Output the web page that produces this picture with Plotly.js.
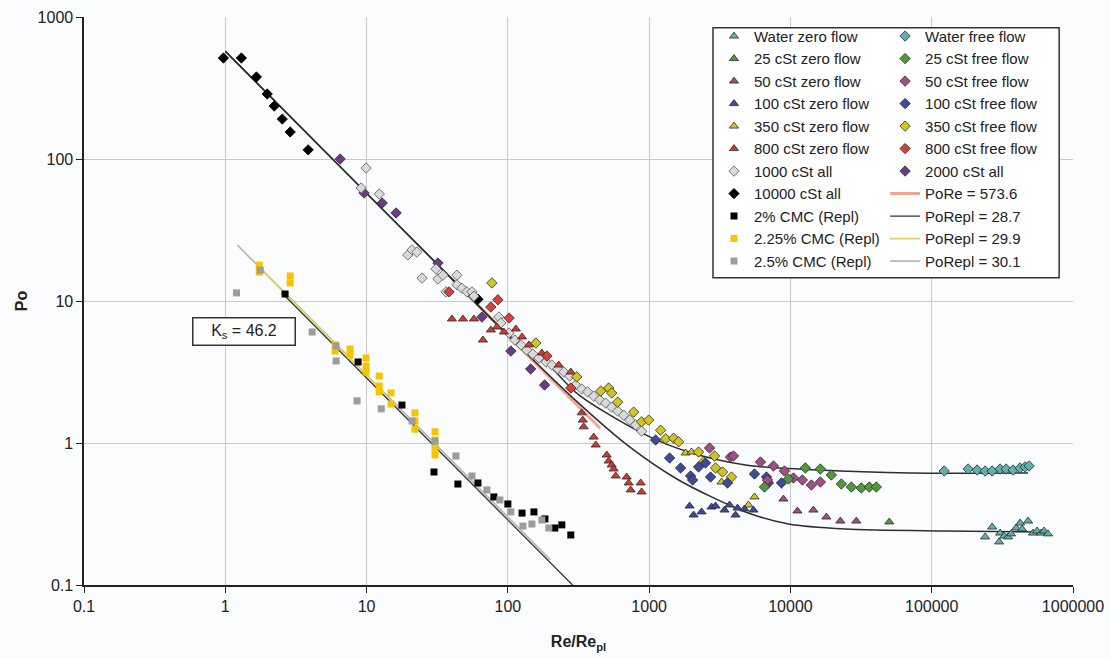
<!DOCTYPE html>
<html>
<head>
<meta charset="utf-8">
<script src="https://cdn.plot.ly/plotly-3.0.1.min.js"></script>
<style>
html,body{margin:0;padding:0;background:#fbfcfe;}
#chart{width:1111px;height:658px;}
</style>
</head>
<body>
<div id="chart"></div>
<script>
// ---------------- data ----------------
const waterZeroX = [238900, 267700, 299900, 304900, 325300, 347100, 364600, 395500, 422100, 436100, 480800, 521700, 556600, 594000, 623700, 665800];
const waterZeroY = [0.218, 0.256, 0.201, 0.232, 0.221, 0.218, 0.229, 0.252, 0.273, 0.248, 0.282, 0.232, 0.240, 0.232, 0.240, 0.229];
const waterFreeX = [122600, 181100, 209700, 238900, 267700, 304900, 336200, 376700, 422100, 457900, 488900];
const waterFreeY = [0.635, 0.656, 0.645, 0.635, 0.635, 0.656, 0.656, 0.645, 0.667, 0.678, 0.689];

const cst25ZeroX = [50080];
const cst25ZeroY = [0.278];
const cst25FreeX = [6551, 9680, 12760, 16290, 19490, 22930, 26990, 31750, 36170, 40540];
const cst25FreeY = [0.490, 0.558, 0.667, 0.656, 0.595, 0.514, 0.490, 0.482, 0.490, 0.490];

const cst50ZeroX = [8924, 11210, 14540, 17970, 22560, 29270];
const cst50ZeroY = [0.403, 0.332, 0.337, 0.301, 0.282, 0.282];
const cst50FreeX = [2676, 3766, 3955, 6136, 6877, 7584, 9070, 10500, 12150, 14070, 16290];
const cst50FreeY = [0.922, 0.797, 0.810, 0.735, 0.549, 0.689, 0.635, 0.567, 0.549, 0.506, 0.531];

const cst100ZeroX = [1933, 2063, 2350, 2764, 2951, 3416, 3706, 4085, 4220, 4729, 5475];
const cst100ZeroY = [0.360, 0.311, 0.327, 0.354, 0.360, 0.337, 0.366, 0.311, 0.348, 0.343, 0.337];
const cst100FreeX = [1111, 1396, 1669, 1964, 2030, 2237, 2507, 2720, 3586, 5565, 6766, 6990, 8640];
const cst100FreeY = [1.05, 0.784, 0.667, 0.586, 0.549, 0.678, 0.723, 0.576, 0.523, 0.605, 0.576, 0.523, 0.523];

const cst350ZeroX = [1811, 1997, 3253, 5048, 5565];
const cst350ZeroY = [0.850, 0.864, 0.531, 0.366, 0.417];
const cst350FreeX = [77.1, 158, 307, 454, 517, 543, 599, 777, 885, 992, 1206, 1308, 1490, 1616, 2237, 2427, 2903, 2951, 3306, 3828];
const cst350FreeY = [13.4, 5.06, 2.92, 2.32, 2.44, 2.25, 1.94, 1.65, 1.41, 1.45, 1.23, 1.07, 1.08, 1.02, 0.864, 0.735, 0.810, 0.667, 0.625, 0.576];

const cst800ZeroX = [40.2, 48.1, 57.5, 66.6, 75.8, 83.6, 93.7, 114, 126, 141, 174, 229, 279, 333, 339, 344, 405, 419, 501, 517, 543, 561, 580, 693, 716, 740, 871, 885];
const cst800ZeroY = [7.47, 7.47, 7.47, 5.31, 6.25, 6.56, 6.05, 6.35, 5.58, 4.90, 4.30, 3.54, 3.16, 1.63, 1.45, 1.30, 1.10, 0.968, 0.823, 0.747, 0.700, 0.656, 0.586, 0.576, 0.523, 0.467, 0.523, 0.452];
const cst800FreeX = [38.3, 75.8, 85.0, 102, 189, 279];
const cst800FreeY = [11.6, 9.07, 10.2, 7.59, 4.10, 2.44];

const cst1000X = [9.92, 9.15, 12.3, 19.6, 21.0, 22.7, 24.7, 31.0, 32.0, 34.7, 36.5, 43.6, 43.6, 47.3, 51.3, 55.7, 57.5, 86.4, 89.2, 102, 112, 124, 136, 150, 166, 186, 205, 226, 249, 274, 302, 333, 367, 405, 447, 492, 543, 599, 660, 728, 803, 885];
const cst1000Y = [86.4, 62.5, 56.7, 21.1, 22.9, 22.1, 14.5, 16.8, 14.3, 15.2, 11.6, 15.2, 13.0, 12.3, 11.6, 11.6, 10.8, 7.71, 7.0, 5.95, 5.31, 4.90, 4.52, 4.23, 3.97, 3.72, 3.54, 3.32, 3.16, 2.96, 2.56, 2.40, 2.29, 2.14, 2.01, 1.91, 1.79, 1.68, 1.57, 1.45, 1.34, 1.21];

const cst2000X = [6.5, 9.6, 12.9, 16.2, 32, 65.5, 105, 145, 182];
const cst2000Y = [100, 57.6, 49, 41.7, 18.5, 7.7, 4.44, 3.32, 2.56];

const cst10000X = [0.97, 1.30, 1.66, 1.98, 2.22, 2.53, 2.88, 3.86, 61.4];
const cst10000Y = [514, 514, 378, 287, 236, 191, 155, 116, 10.3];

const cmc200X = [2.65, 8.71, 17.8, 30.0, 44.3, 61.4, 79.6, 100, 126, 153, 183, 215, 241, 279];
const cmc200Y = [11.2, 3.72, 1.85, 0.625, 0.514, 0.523, 0.417, 0.372, 0.321, 0.327, 0.292, 0.252, 0.265, 0.225];
const cmc225X = [1.74, 1.74, 2.88, 2.88, 5.99, 5.99, 7.64, 7.64, 9.92, 9.92, 9.92, 12.3, 12.3, 12.3, 14.9, 14.9, 22.0, 22.0, 22.0, 30.5, 30.5, 30.5, 30.5];
const cmc225Y = [17.9, 16.0, 15.0, 13.4, 4.90, 4.44, 4.59, 4.17, 3.97, 3.48, 3.16, 2.96, 2.52, 2.29, 2.25, 1.88, 1.63, 1.43, 1.25, 1.20, 1.05, 0.922, 0.823];
const cmc250X = [1.20, 1.77, 4.12, 6.09, 6.09, 8.57, 12.7, 21.0, 30.5, 42.9, 55.7, 71.1, 87.8, 105, 128, 148, 174, 195];
const cmc250Y = [11.4, 16.5, 6.05, 4.82, 3.78, 1.98, 1.74, 1.43, 1.03, 0.810, 0.586, 0.467, 0.397, 0.327, 0.260, 0.269, 0.287, 0.252];

// fitted lines (end points / curve points)
const poReX = [40, 450];
const poReY = [14.34, 1.27];
const poRepl287X = [2.5, 287];
const poRepl287Y = [11.48, 0.1];
const poRepl299X = [1.7, 12];
const poRepl299Y = [17.6, 2.49];
const poRepl301X = [1.22, 200];
const poRepl301Y = [24.7, 0.1505];
const upperCurveX = [1, 10, 50, 100, 174, 318, 945, 1901, 4808, 15770, 71600, 480800];
const upperCurveY = [573.6, 57.4, 11.5, 5.8, 3.97, 2.18, 1.14, 0.864, 0.700, 0.645, 0.615, 0.615];
const lowerCurveX = [1, 10, 50, 100, 318, 716, 1616, 4808, 9680, 24470, 124600, 634000];
const lowerCurveY = [573.6, 57.4, 11.5, 5.76, 1.9, 0.95, 0.549, 0.327, 0.269, 0.248, 0.240, 0.236];

const xTickVals = [0.1, 1, 10, 100, 1000, 10000, 100000, 1000000];
const xTickText = ['0.1', '1', '10', '100', '1000', '10000', '100000', '1000000'];
const yTickVals = [0.1, 1, 10, 100, 1000];
const yTickText = ['0.1', '1', '10', '100', '1000'];

// ---------------- traces ----------------
const OUT = '#2a2a2a';
function pts(name, x, y, symbol, color, size, legend, rank, outline) {
  return {
    type: 'scatter', mode: 'markers', name: name, x: x, y: y,
    legend: legend, legendrank: rank,
    marker: {symbol: symbol, size: size, color: color,
             line: outline ? {color: outline, width: 0.8} : {width: 0}}
  };
}
function ln(name, x, y, color, width, legend, rank, show, shape) {
  return {
    type: 'scatter', mode: 'lines', name: name, x: x, y: y,
    legend: legend, legendrank: rank, showlegend: show,
    line: {color: color, width: width, shape: shape || 'linear', smoothing: 0.8},
    hoverinfo: 'skip'
  };
}

const traces = [
  ln('PoRe = 573.6', poReX, poReY, '#f2a58f', 3, 'legend2', 8, true),
  ln('upper', upperCurveX, upperCurveY, '#2e2e2e', 1.5, 'legend2', 20, false, 'spline'),
  ln('lower', lowerCurveX, lowerCurveY, '#2e2e2e', 1.5, 'legend2', 21, false, 'spline'),
  ln('PoRepl = 30.1', poRepl301X, poRepl301Y, '#b9b9b9', 1.8, 'legend2', 11, true),
  ln('PoRepl = 28.7', poRepl287X, poRepl287Y, '#333333', 1.3, 'legend2', 9, true),
  ln('PoRepl = 29.9', poRepl299X, poRepl299Y, '#e6cf63', 1.6, 'legend2', 10, true),

  pts('2% CMC (Repl)', cmc200X, cmc200Y, 'square', '#000000', 7, 'legend', 9),
  pts('2.25% CMC (Repl)', cmc225X, cmc225Y, 'square', '#f6c400', 7, 'legend', 10),
  pts('2.5% CMC (Repl)', cmc250X, cmc250Y, 'square', '#9c9c9c', 7, 'legend', 11),

  pts('10000 cSt all', cst10000X, cst10000Y, 'diamond', '#000000', 8, 'legend', 8, '#000000'),
  pts('2000 cSt all', cst2000X, cst2000Y, 'diamond', '#6b3a88', 8, 'legend2', 7, OUT),
  pts('1000 cSt all', cst1000X, cst1000Y, 'diamond', '#d9d9d9', 8, 'legend', 7, '#555555'),
  pts('800 cSt zero flow', cst800ZeroX, cst800ZeroY, 'triangle-up', '#d03a2f', 8, 'legend', 6, OUT),
  pts('800 cSt free flow', cst800FreeX, cst800FreeY, 'diamond', '#d8403a', 8, 'legend2', 6, OUT),
  pts('350 cSt zero flow', cst350ZeroX, cst350ZeroY, 'triangle-up', '#d4c420', 8, 'legend', 5, OUT),
  pts('350 cSt free flow', cst350FreeX, cst350FreeY, 'diamond', '#d4c420', 8, 'legend2', 5, OUT),
  pts('100 cSt zero flow', cst100ZeroX, cst100ZeroY, 'triangle-up', '#3e4a9c', 8, 'legend', 4, OUT),
  pts('100 cSt free flow', cst100FreeX, cst100FreeY, 'diamond', '#3e4a9c', 8, 'legend2', 4, OUT),
  pts('50 cSt zero flow', cst50ZeroX, cst50ZeroY, 'triangle-up', '#a24f86', 8, 'legend', 3, OUT),
  pts('50 cSt free flow', cst50FreeX, cst50FreeY, 'diamond', '#a24f86', 8, 'legend2', 3, OUT),
  pts('25 cSt zero flow', cst25ZeroX, cst25ZeroY, 'triangle-up', '#4f9a3a', 8, 'legend', 2, OUT),
  pts('25 cSt free flow', cst25FreeX, cst25FreeY, 'diamond', '#4f9a3a', 8, 'legend2', 2, OUT),
  pts('Water zero flow', waterZeroX, waterZeroY, 'triangle-up', '#5fb0ad', 8, 'legend', 1, OUT),
  pts('Water free flow', waterFreeX, waterFreeY, 'diamond', '#5fb0ad', 8, 'legend2', 1, OUT)
];

const FONT = 'Liberation Sans, Arial, sans-serif';
const legendCommon = {
  bgcolor: 'rgba(0,0,0,0)', borderwidth: 0, traceorder: 'normal',
  font: {family: FONT, size: 15, color: '#222'},
  xanchor: 'left', yanchor: 'top', orientation: 'v'
};

const layout = {
  width: 1111, height: 658,
  margin: {l: 84, r: 38, t: 17, b: 73},
  paper_bgcolor: '#fbfcfe', plot_bgcolor: '#fbfcfe',
  font: {family: FONT, size: 16, color: '#222'},
  showlegend: true,
  xaxis: {
    type: 'log', range: [-1, 6], tickvals: xTickVals, ticktext: xTickText,
    showgrid: true, gridcolor: '#cacaca', gridwidth: 1,
    showline: true, linecolor: '#222', linewidth: 1.6,
    ticks: 'outside', ticklen: 6, tickcolor: '#222',
    zeroline: false, tickfont: {family: FONT, size: 16, color: '#222'},
    title: {text: '<b>Re/Re<sub>pl</sub></b>', font: {family: FONT, size: 16, color: '#222'}, standoff: 22}
  },
  yaxis: {
    type: 'log', range: [-1, 3], tickvals: yTickVals, ticktext: yTickText,
    showgrid: true, gridcolor: '#cacaca', gridwidth: 1,
    showline: true, linecolor: '#222', linewidth: 1.6,
    ticks: 'outside', ticklen: 6, tickcolor: '#222',
    zeroline: false, tickfont: {family: FONT, size: 16, color: '#222'},
    title: {text: '<b>Po</b>', font: {family: FONT, size: 16, color: '#222'}, standoff: 6}
  },
  legend: Object.assign({}, legendCommon, {x: 0.637, y: 0.995}),
  legend2: Object.assign({}, legendCommon, {x: 0.81, y: 0.995}),
  shapes: [{
    type: 'rect', xref: 'paper', yref: 'paper', layer: 'above',
    x0: 0.636, x1: 0.986, y0: 0.541, y1: 0.981,
    line: {color: '#333', width: 1.5}, fillcolor: '#ffffff'
  }],
  annotations: [{
    xref: 'paper', yref: 'paper', x: 0.162, y: 0.447,
    xanchor: 'center', yanchor: 'middle',
    text: 'K<sub>s</sub> = 46.2', showarrow: false,
    font: {family: FONT, size: 16, color: '#222'},
    bordercolor: '#333', borderwidth: 1.5, borderpad: 3,
    bgcolor: '#ffffff', width: 95, height: 20
  }]
};

Plotly.newPlot('chart', traces, layout, {displayModeBar: false, staticPlot: true});
</script>
</body>
</html>
